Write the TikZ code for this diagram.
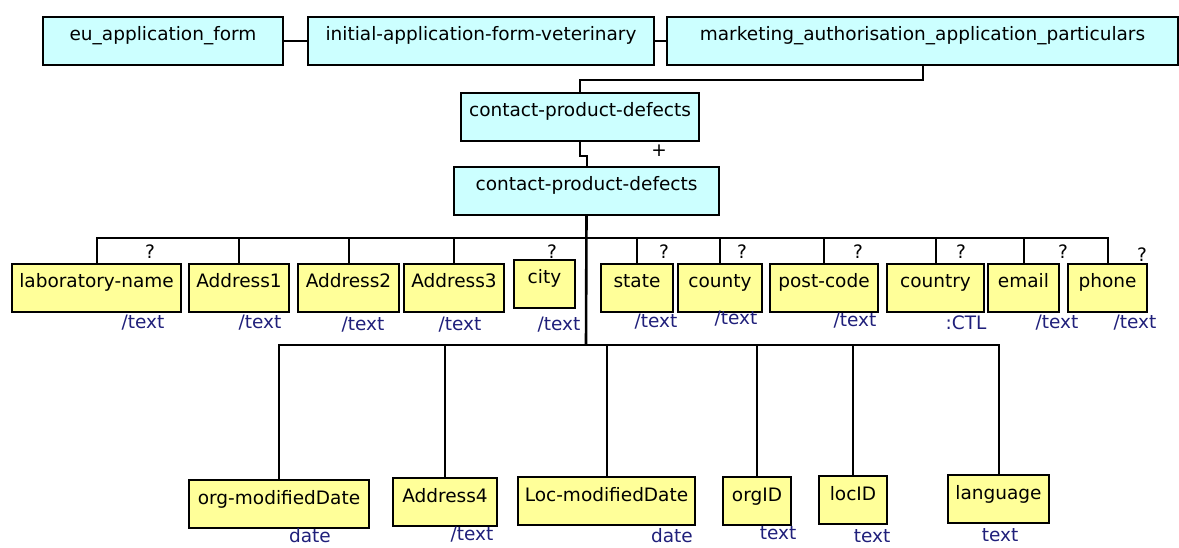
\documentclass[tikz,border=0pt]{standalone}
\usepackage{fontspec}
\setmainfont{DejaVu Sans}
\definecolor{groupfill}{HTML}{CCFFFF}
\definecolor{elemfill}{HTML}{FFFF99}
\definecolor{typenavy}{HTML}{1F1F7A}
\tikzset{
  schemabox/.style={draw, line width=2pt, anchor=north west, inner xsep=0pt, inner ysep=0pt,
    text height=24pt, text depth=24pt},
  groupbox/.style={schemabox, fill=groupfill},
  elembox/.style={schemabox, fill=elemfill},
  typelabel/.style={text=typenavy, inner sep=0pt},
  occur/.style={inner sep=0pt},
  link/.style={line width=2pt},
  trunk/.style={line width=2.6pt},
}
\begin{document}
\begin{tikzpicture}[x=1pt, y=-1pt, font=\fontsize{18.5}{21}\selectfont]
	\useasboundingbox (0,0) rectangle (1179,548);
	
	% parent elements (top row)
	\node[groupbox, minimum width=240] (euform) at (42,16) {eu\_application\_form};
	\node[groupbox, minimum width=346] (initform) at (307,16) {initial-application-form-veterinary};
	\node[groupbox, minimum width=511] (mkt) at (666,16) {marketing\_authorisation\_application\_particulars};
	\draw[link] (euform) -- (initform);
	\draw[link] (initform) -- (mkt);
	
	% contact-product-defects (wrapper and repeated child)
	\node[groupbox, minimum width=238] (cpdouter) at (460,92) {contact-product-defects};
	\node[groupbox, minimum width=265] (cpdinner) at (453,166) {contact-product-defects};
	\draw[link] (mkt.south) -- ++(0,14) -| (cpdouter.north);
	\draw[link] (cpdouter.south) -- ++(0,14) -| (cpdinner.north);
	\node[occur] (plusmark) at (659,151) {+};
	
	% bus junctions below the inner node
	\coordinate (busone) at (586,238);
	\coordinate (bustwo) at (586,345);
	\draw[trunk] (cpdinner.south) -- (bustwo);
	
	% first row of children
	\node[elembox, minimum width=169] (labname) at (11,263) {laboratory-name};
	\node[elembox, minimum width=100] (addr1) at (188,263) {Address1};
	\node[elembox, minimum width=101] (addr2) at (297,263) {Address2};
	\node[elembox, minimum width=100] (addr3) at (403,263) {Address3};
	\node[elembox, minimum width=61] (city) at (513,259) {city};
	\node[elembox, minimum width=72] (state) at (600,263) {state};
	\node[elembox, minimum width=84] (county) at (677,263) {county};
	\node[elembox, minimum width=108] (postcode) at (769,263) {post-code};
	\node[elembox, minimum width=97] (country) at (886,263) {country};
	\node[elembox, minimum width=71] (email) at (987,263) {email};
	\node[elembox, minimum width=79] (phone) at (1067,263) {phone};
	
	\draw[link] (labname.north) -- (labname.north |- busone) -- (phone.north |- busone) -- (phone.north);
	\foreach \n in {addr1,addr2,addr3,state,county,postcode,country,email}
		\draw[link] (\n.north) -- (\n.north |- busone);
	
	% occurrence marks
	\node[occur] (qlab) at (150,252) {?};
	\node[occur] (qcity) at (552,252) {?};
	\node[occur] (qstate) at (664,252) {?};
	\node[occur] (qcounty) at (742,252) {?};
	\node[occur] (qpost) at (858,252) {?};
	\node[occur] (qcountry) at (961,252) {?};
	\node[occur] (qemail) at (1063,252) {?};
	\node[occur] (qphone) at (1142,255) {?};
	
	% types, first row
	\node[typelabel] (tlab) at (143,323) {/text};
	\node[typelabel] (taddr1) at (260,323) {/text};
	\node[typelabel] (taddr2) at (363,325) {/text};
	\node[typelabel] (taddr3) at (460,325) {/text};
	\node[typelabel] (tcity) at (559,325) {/text};
	\node[typelabel] (tstate) at (656,322) {/text};
	\node[typelabel] (tcounty) at (736,319) {/text};
	\node[typelabel] (tpost) at (855,321) {/text};
	\node[typelabel] (tcountry) at (966,323) {:CTL};
	\node[typelabel] (temail) at (1057,323) {/text};
	\node[typelabel] (tphone) at (1135,323) {/text};
	
	% second row of children
	\node[elembox, minimum width=180] (orgmod) at (188,479) {org-modifiedDate};
	\node[elembox, minimum width=104] (addr4) at (392,477) {Address4};
	\node[elembox, minimum width=177] (locmod) at (517,476) {Loc-modifiedDate};
	\node[elembox, minimum width=68] (orgid) at (722,476) {orgID};
	\node[elembox, minimum width=68] (locid) at (818,475) {locID};
	\node[elembox, minimum width=101] (lang) at (947,474) {language};
	
	\draw[link] (orgmod.north) -- (orgmod.north |- bustwo) -- (lang.north |- bustwo) -- (lang.north);
	\foreach \n in {addr4,locmod,orgid,locid}
		\draw[link] (\n.north) -- (\n.north |- bustwo);
	
	% types, second row
	\node[typelabel] (torgmod) at (310,536) {date};
	\node[typelabel] (taddr4) at (472,535) {/text};
	\node[typelabel] (tlocmod) at (672,536) {date};
	\node[typelabel] (torgid) at (778,533) {text};
	\node[typelabel] (tlocid) at (872,536) {text};
	\node[typelabel] (tlang) at (1000,535) {text};
	
\end{tikzpicture}
\end{document}
